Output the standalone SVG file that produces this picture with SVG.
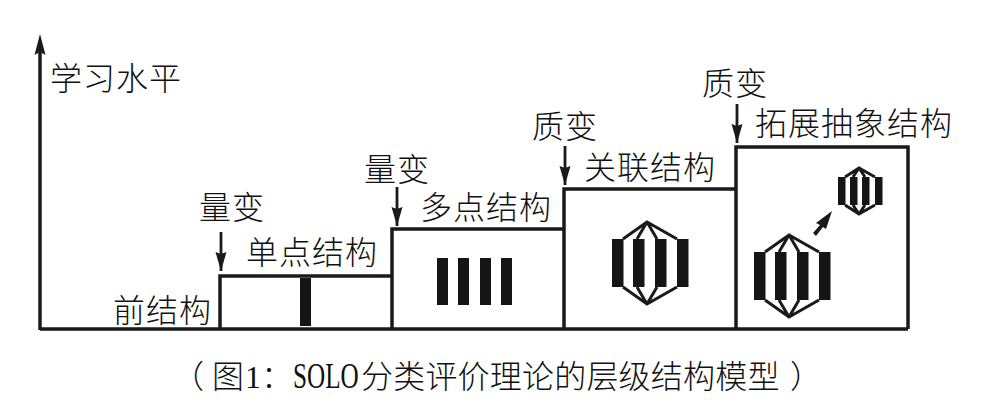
<svg xmlns="http://www.w3.org/2000/svg" width="997" height="416" viewBox="0 0 997 416">
<style>
text{font-family:"Liberation Serif","Noto Sans CJK SC",serif;font-size:32px;fill:#111;font-weight:300;letter-spacing:1px}
.c{letter-spacing:.2px}
.l{fill:none;stroke:#1a1a1a;stroke-width:3.5}
.t{fill:none;stroke:#1a1a1a;stroke-width:3}
.b{fill:#151515}
.a{fill:none;stroke:#1a1a1a;stroke-width:2.8;marker-end:url(#m)}
</style>
<defs>
<marker id="m" markerUnits="userSpaceOnUse" markerWidth="20" markerHeight="12" refX="19" refY="6" orient="auto"><path d="M0 .5L19 6L0 11.5L2 6Z" fill="#1a1a1a"/></marker>
<g id="hex"><path class="t" d="M-24 17L0 0L30 17M-24 65L0 82L30 65M0 0L-10 17M0 0L10 17M0 82L-10 65M0 82L10 65"/><rect class="b" x="-35" y="17" width="11.5" height="48"/><rect class="b" x="-14" y="17" width="11.5" height="48"/><rect class="b" x="8" y="17" width="11.5" height="48"/><rect class="b" x="30" y="17" width="11.5" height="48"/></g>
</defs>
<rect width="997" height="416" fill="#fff"/>
<g id="connectors">
<path class="l" d="M40 330V52"/><path d="M40 34L45.5 55L40 52L34.5 55Z" fill="#1a1a1a"/>
<path class="a" d="M221 232V271"/>
<path class="a" d="M397 187V226"/>
<path class="a" d="M565 146V185"/>
<path class="a" d="M737 104V143"/>
<path d="M813 233L820 225L816 223L832 211L826 229L823 227L816 236Z" fill="#1a1a1a"/>
</g>
<g id="step1"><path class="l" d="M40 329H908M220 329V276H392"/><rect class="b" x="300" y="278" width="11" height="48"/></g>
<g id="step2"><path class="l" d="M392 329V229H564"/><rect class="b" x="437" y="258" width="11" height="47"/><rect class="b" x="458" y="258" width="11" height="47"/><rect class="b" x="480" y="258" width="11" height="47"/><rect class="b" x="501" y="258" width="11" height="47"/></g>
<g id="step3"><path class="l" d="M564 329V189H736"/><use href="#hex" x="647" y="222"/></g>
<g id="step4"><path class="l" d="M736 329V147H908V329"/><use href="#hex" x="789" y="235"/>
<g id="small-hex"><path class="t" d="M845 177L859 168L875 177M845 205L859 214L875 205M859 168L853 177M859 168L865 177M859 214L853 205M859 214L865 205"/><rect class="b" x="838" y="177" width="7.5" height="28"/><rect class="b" x="850" y="177" width="7.5" height="28"/><rect class="b" x="862" y="177" width="7.5" height="28"/><rect class="b" x="875" y="177" width="7.5" height="28"/></g></g>
<g id="labels">
<text x="50" y="90">学习水平</text>
<text x="113" y="322">前结构</text>
<text x="246" y="264">单点结构</text>
<text x="420" y="219">多点结构</text>
<text x="584" y="179">关联结构</text>
<text x="755" y="135">拓展抽象结构</text>
<text x="199" y="219">量变</text>
<text x="364" y="181">量变</text>
<text x="532" y="138">质变</text>
<text x="702" y="95">质变</text>
<text class="c" x="172" y="388">（</text>
<text class="c" x="212" y="388">图</text>
<text class="c" x="245" y="388">1</text>
<text class="c" x="261" y="388">：</text>
<text class="c" transform="translate(293 388) scale(.7 1)" style="font-size:36px;letter-spacing:0">SOLO</text>
<text class="c" x="361" y="388">分类评价理论的层级结构模型</text>
<text class="c" x="790" y="388">）</text>
</g>
</svg>
